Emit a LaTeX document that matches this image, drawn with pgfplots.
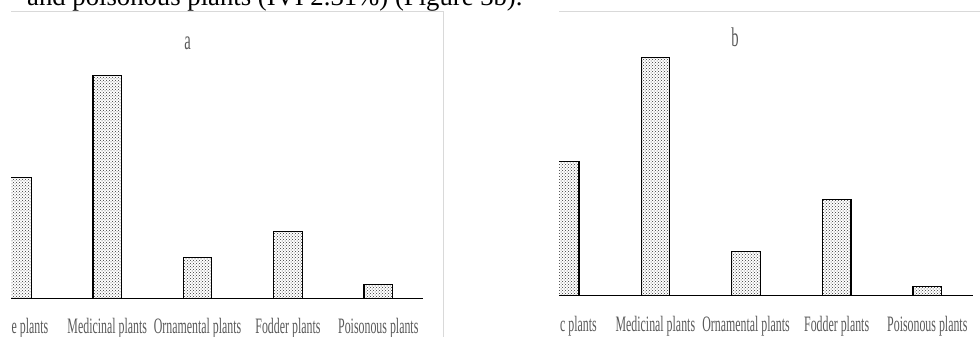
\documentclass[border=0pt]{standalone}
\usepackage{pgfplots}
\pgfplotsset{compat=1.18}
\usetikzlibrary{patterns}
\usepackage{fontspec}
\setmainfont{Liberation Serif}
\newfontfamily\narrow[FakeStretch=0.54]{Liberation Serif}
\definecolor{lbl}{HTML}{595959}
\definecolor{panelframe}{HTML}{D9D9D9}
\pgfplotsset{barchart/.style={
  scale only axis, ybar, bar width=28.5pt, ymin=0, height=260pt,
  axis x line*=bottom, axis y line=none,
  axis line style={line width=1.6pt, black},
  xtick style={draw=none}, ytick=\empty,
  xticklabel style={font=\narrow\fontsize{22}{26}\selectfont, text=lbl, anchor=base},
},
patbar/.style={ybar, draw=black, line width=1.2pt, pattern=crosshatch dots, pattern color=black!80}}
\begin{document}
\begin{tikzpicture}[x=1pt,y=1pt]
\path[use as bounding box, clip] (0,0) rectangle (980,337);
\draw[panelframe, line width=1pt] (11,325.3) -- (443,325.3) -- (443,0);
\draw[panelframe, line width=1pt] (559,325.3) -- (980,325.3);
\node[anchor=base west, inner sep=0, font=\fontsize{26.7}{30}\selectfont] at (27,331.2) {and poisonous plants (IVI 2.31\%) (Figure 3b).};
\begin{axis}[barchart, at={(11pt,38.3pt)}, anchor=south west,
  width=412pt, xmin=-0.0653, xmax=4.4947, ymax=65,
  xtick={0.145,1,2,3,4},
  xticklabels={e plants, Medicinal plants, Ornamental plants, Fodder plants, Poisonous plants},
  xticklabel style={yshift=-30.8pt}]
\addplot[patbar] coordinates {(0,30.25) (1,55.85) (2,10.25) (3,16.75) (4,3.5)};
\end{axis}
\begin{axis}[barchart, at={(559pt,41.3pt)}, anchor=south west,
  width=413.7pt, xmin=-0.0629, xmax=4.5008, ymax=66.67,
  xtick={0.152,1,2,3,4},
  xticklabels={c plants, Medicinal plants, Ornamental plants, Fodder plants, Poisonous plants},
  xticklabel style={yshift=-31.8pt}]
\addplot[patbar] coordinates {(0,34.36) (1,61.13) (2,11.38) (3,24.62) (4,2.31)};
\end{axis}
\node[anchor=base, inner sep=0, text=lbl, font=\narrow\fontsize{27}{30}\selectfont] at (187.5,287.7) {a};
\node[anchor=base, inner sep=0, text=lbl, font=\narrow\fontsize{27}{30}\selectfont] at (735,290.3) {b};
\end{tikzpicture}
\end{document}
